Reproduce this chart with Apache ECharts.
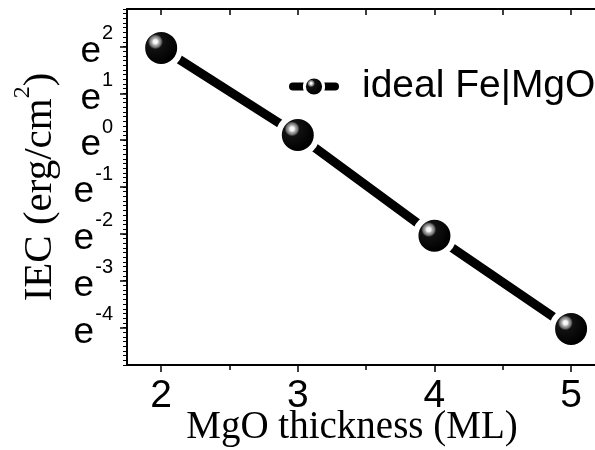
<!DOCTYPE html>
<html>
<head>
<meta charset="utf-8">
<script src="https://cdn.jsdelivr.net/npm/echarts@6/dist/echarts.min.js"></script>
<style>html,body{margin:0;padding:0;background:#fff;}#c{width:595px;height:450px;}</style>
</head>
<body>
<div id="c"></div>
<script>
// MgO thickness (ML)
const thickness = [2, 3, 4, 5];
const lnIEC = [1.97, 0.11, -2.04, -4.03];
const seriesName = 'ideal Fe|MgO';
const yMajorTicks = [-4, -3, -2, -1, 0, 1, 2];
const xMajorTicks = [2, 3, 4, 5];
const xMinorTicks = [2.5, 3.5, 4.5];
const xAllTicks = [2, 2.5, 3, 3.5, 4, 4.5, 5];
const yMinorTicks = [];
for (let i = -48; i <= 28; i++) yMinorTicks.push(i / 10);

const Y_MIN = -4.8, Y_MAX = 2.8, X_MIN = 1.75, X_MAX = 5.175;

const sphere = {
  type: 'radial', x: 0.37, y: 0.36, r: 0.5,
  colorStops: [
    { offset: 0, color: '#ffffff' },
    { offset: 0.1, color: '#f0f0f0' },
    { offset: 0.16, color: '#b0b0b0' },
    { offset: 0.26, color: '#707070' },
    { offset: 0.34, color: '#111111' },
    { offset: 1, color: '#000000' }
  ]
};
const sans = 'Liberation Sans, Arial, sans-serif';
const serif = 'Liberation Serif, Times New Roman, serif';

const baseY = {
  type: 'value', min: Y_MIN, max: Y_MAX, position: 'left',
  splitLine: { show: false }
};

const chart = echarts.init(document.getElementById('c'), null, { renderer: 'canvas' });
chart.setOption({
  animation: false,
  backgroundColor: '#fff',
  grid: { left: 127, right: 0, top: 9, bottom: 85, containLabel: false, outerBoundsMode: 'none' },
  legend: {
    data: [seriesName],
    left: 289, top: 67, padding: 0,
    itemWidth: 42, itemHeight: 24,
    lineStyle: { width: 8, color: '#000' },
    itemStyle: { borderColor: '#fff', borderWidth: 3 },
    textStyle: { fontFamily: sans, fontSize: 39, color: '#000', padding: [0, 0, 0, 22] }
  },
  xAxis: [
    {
      type: 'value', min: X_MIN, max: X_MAX, position: 'bottom',
      name: 'MgO thickness (ML)', nameLocation: 'middle', nameGap: 43, nameMoveOverlap: false,
      nameTextStyle: { fontFamily: serif, fontSize: 39, color: '#000', padding: [0, 18, 0, 0] },
      axisLine: { show: true, onZero: false, lineStyle: { color: '#000', width: 2 } },
      axisTick: { show: true, customValues: xMajorTicks, length: 7, lineStyle: { color: '#000', width: 1.5 } },
      axisLabel: { customValues: xMajorTicks, fontFamily: sans, fontSize: 39, color: '#000', margin: 12, showMinLabel: true, showMaxLabel: true },
      splitLine: { show: false }
    },
    {
      type: 'value', min: X_MIN, max: X_MAX, position: 'bottom',
      axisLine: { show: false, onZero: false },
      axisTick: { show: true, customValues: xMinorTicks, length: 5, lineStyle: { color: '#000', width: 1.5 } },
      axisLabel: { show: false },
      splitLine: { show: false }
    },
    {
      type: 'value', min: X_MIN, max: X_MAX, position: 'top',
      axisLine: { show: true, onZero: false, lineStyle: { color: '#000', width: 2 } },
      axisTick: { show: true, inside: true, customValues: xAllTicks, length: 6, lineStyle: { color: '#000', width: 1.5 } },
      axisLabel: { show: false },
      splitLine: { show: false }
    }
  ],
  yAxis: [
    Object.assign({}, baseY, {
      name: '{a|IEC (erg/cm}{s|2}{a|)}', nameLocation: 'middle', nameGap: 66, nameRotate: 90, nameMoveOverlap: false,
      nameTextStyle: {
        rich: {
          a: { fontFamily: serif, fontSize: 41, color: '#000', lineHeight: 50, verticalAlign: 'bottom' },
          s: { fontFamily: serif, fontSize: 24, color: '#000', lineHeight: 30, verticalAlign: 'top' }
        }
      },
      axisLine: { show: true, onZero: false, lineStyle: { color: '#000', width: 2 } },
      axisTick: { show: true, customValues: yMajorTicks, length: 7, lineStyle: { color: '#000', width: 1.5 } },
      // base "e" of each e^n label, leaving room for the exponent
      axisLabel: {
        customValues: yMajorTicks, margin: 14, showMinLabel: true, showMaxLabel: true, hideOverlap: false,
        padding: [10, 0, 0, 0],
        formatter: v => '{e|e}{' + (v < 0 ? 'n' : 'p') + '| }',
        rich: {
          e: { fontFamily: sans, fontSize: 37, color: '#000', lineHeight: 34, verticalAlign: 'middle' },
          p: { fontFamily: sans, fontSize: 20, lineHeight: 34, width: 12 },
          n: { fontFamily: sans, fontSize: 20, lineHeight: 34, width: 19 }
        }
      }
    }),
    Object.assign({}, baseY, {
      // exponents of the e^n labels
      axisLine: { show: false, onZero: false },
      axisTick: { show: false },
      axisLabel: {
        customValues: yMajorTicks, margin: 14, showMinLabel: true, showMaxLabel: true, hideOverlap: false,
        padding: [0, 0, 26, 0],
        formatter: v => '{s|' + v + '}',
        rich: { s: { fontFamily: sans, fontSize: 20, color: '#000', lineHeight: 20 } }
      }
    }),
    Object.assign({}, baseY, {
      axisLine: { show: false, onZero: false },
      axisTick: { show: true, customValues: yMinorTicks, length: 4, lineStyle: { color: '#000', width: 1 } },
      axisLabel: { show: false }
    })
  ],
  series: [{
    name: seriesName,
    type: 'line',
    xAxisIndex: 0, yAxisIndex: 0,
    data: thickness.map((x, i) => [x, lnIEC[i]]),
    symbol: 'circle', symbolSize: 38,
    lineStyle: { color: '#000', width: 9, cap: 'round' },
    itemStyle: { color: sphere, borderColor: '#fff', borderWidth: 6 },
    emphasis: { disabled: true }
  }]
});
</script>
</body>
</html>
